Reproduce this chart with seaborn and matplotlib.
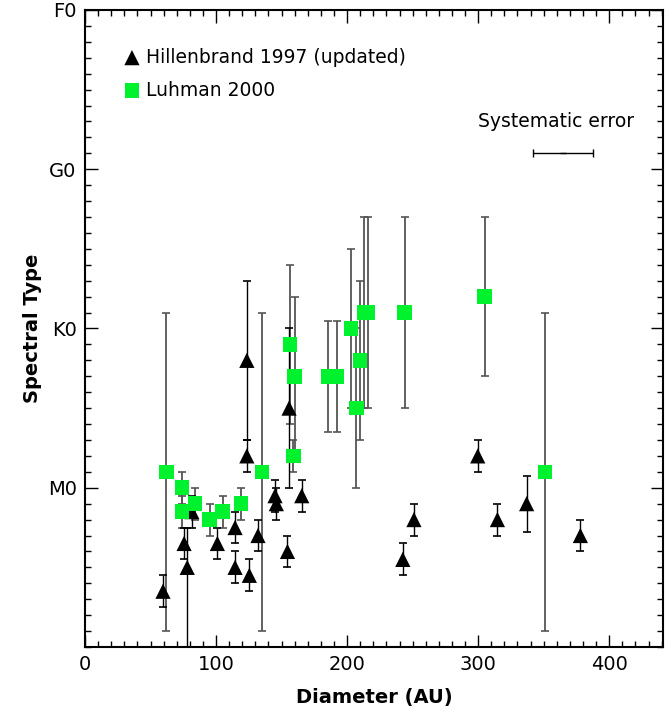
"""Spectral type versus disk diameter, Hillenbrand 1997 and Luhman 2000."""
import matplotlib
matplotlib.use('Agg')
import matplotlib.pyplot as plt
from matplotlib.ticker import MultipleLocator
import numpy as np
import pandas as pd
import seaborn as sns

# spectral type coded as subclasses: M0 = 0, K0 = 10, G0 = 20, F0 = 30
type_ticks = [0, 10, 20, 30]
type_labels = ['M0', 'K0', 'G0', 'F0']

# Hillenbrand 1997 (updated)
hil_diam = [59.5, 75.6, 78, 81.5, 101, 114.5, 114.5, 125.4, 123.5, 123.5, 132,
            145, 146, 154.5, 155.7, 165.4, 242.5, 251, 299.7, 314.7, 337, 378]
hil_type = [-6.5, -3.5, -5, -1.5, -3.5, -2.5, -5, -5.5, 2, 8, -3,
            -0.5, -1, -4, 5, -0.5, -4.5, -2, 2, -2, -1, -3]
hil_err_lo = [1, 1, 10, 1, 1, 1, 1, 1, 1, 5, 1, 1, 1, 1, 5, 1, 1, 1, 1, 1, 1.75, 1]
hil_err_hi = [1, 1, 2.5, 1, 1, 1, 1, 1, 1, 5, 1, 1, 1, 1, 5, 1, 1, 1, 1, 1, 1.75, 1]

# Luhman 2000
luh_diam = [62, 74, 74, 84, 95, 105, 119, 135, 156.5, 160, 159, 185.5, 192,
            203, 207, 210, 213, 216, 244, 305, 351]
luh_type = [1, 0, -1.5, -1, -2, -1.5, -1, 1, 9, 7, 2, 7, 7,
            10, 5, 8, 11, 11, 11, 12, 1]
luh_err = [10, 1, 1, 1, 1, 1, 1, 10, 5, 5, 1, 3.5, 3.5,
           5, 5, 5, 6, 6, 6, 5, 10]

# systematic error bar
sys_diam = [365]
sys_type = [21]
sys_xerr = [23]

sns.set_style('ticks')
plt.rcParams['font.family'] = ['DejaVu Sans']
for key in ['text.color', 'axes.labelcolor', 'xtick.color', 'ytick.color',
            'axes.edgecolor']:
    plt.rcParams[key] = 'black'

fig = plt.figure(figsize=(6.72, 7.13), dpi=100)
ax = fig.add_axes([0.1265, 0.0926, 0.860, 0.8934])

ax.errorbar(luh_diam, luh_type, yerr=luh_err, fmt='none', ecolor='#555555',
            elinewidth=1.3, capsize=3, capthick=1.2, zorder=2)
ax.errorbar(hil_diam, hil_type, yerr=[hil_err_lo, hil_err_hi], fmt='none',
            ecolor='black', elinewidth=1.0, capsize=3, capthick=1.2, zorder=2)

hil = pd.DataFrame({'diam': hil_diam, 'stype': hil_type})
luh = pd.DataFrame({'diam': luh_diam, 'stype': luh_type})
sns.scatterplot(data=hil, x='diam', y='stype', marker='^', s=120, color='black',
                edgecolor='none', ax=ax, zorder=3,
                label='Hillenbrand 1997 (updated)')
sns.scatterplot(data=luh, x='diam', y='stype', marker='s', s=110, color='#00f22f',
                edgecolor='none', ax=ax, zorder=4, label='Luhman 2000')

ax.errorbar(sys_diam, sys_type, xerr=sys_xerr, fmt='_', color='black',
            markersize=5, elinewidth=1.0, capsize=3, capthick=1.0)
ax.text(300, 23, 'Systematic error', fontsize=13.5, ha='left', va='center')

ax.set_xlim(0, 441)
ax.set_ylim(-10, 30)
ax.xaxis.set_major_locator(MultipleLocator(100))
ax.xaxis.set_minor_locator(MultipleLocator(10))
ax.set_yticks(type_ticks)
ax.set_yticklabels(type_labels)
ax.yaxis.set_minor_locator(MultipleLocator(1))
ax.tick_params(which='both', direction='in', top=True, right=True,
               labeltop=False, labelright=False, width=1.0)
ax.tick_params(which='major', length=9, labelsize=14, pad=6)
ax.tick_params(which='minor', length=4.5)
for sp in ax.spines.values():
    sp.set_linewidth(1.5)

ax.set_xlabel('Diameter (AU)', fontsize=14, fontweight='bold', labelpad=10)
ax.set_ylabel('Spectral Type', fontsize=14, fontweight='bold', labelpad=4)

ax.legend(loc='upper left', bbox_to_anchor=(0.065, 0.941), frameon=False,
          fontsize=13.5, handlelength=1.0, handletextpad=0.25,
          labelspacing=0.75, borderaxespad=0, borderpad=0)

fig.savefig('out.png', dpi=100)
